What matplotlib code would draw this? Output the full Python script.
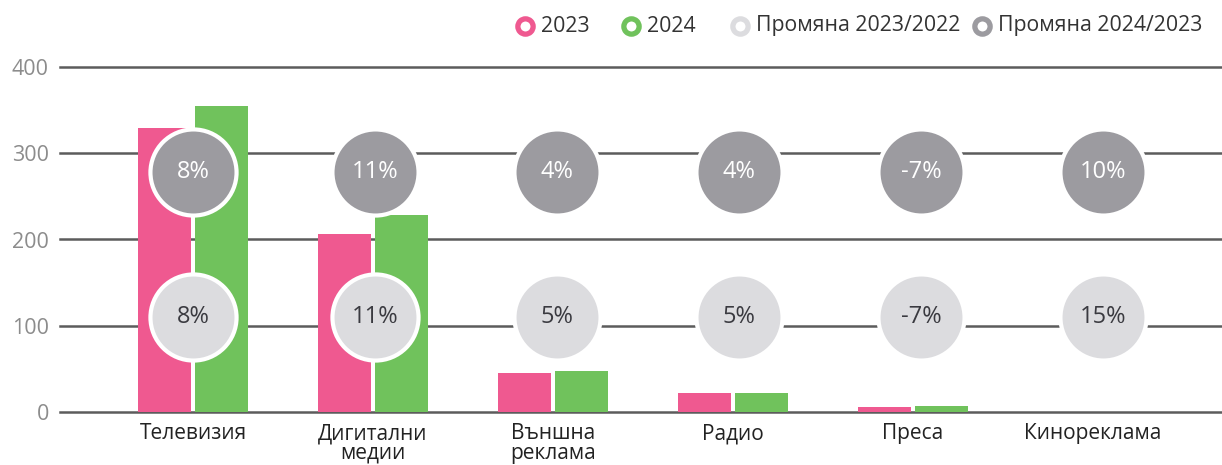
import matplotlib.pyplot as plt
import numpy as np

plt.rcParams['font.family'] = ['Open Sans', 'DejaVu Sans']

# ad spend by media type, with year-over-year change
categories = ['Телевизия', 'Дигитални\nмедии', 'Външна\nреклама', 'Радио', 'Преса', 'Кинореклама']
spend_2023 = [329, 206, 45, 22, 6, 0]
spend_2024 = [355, 228, 47, 22, 7, 0]
change_23_22 = ['8%', '11%', '5%', '5%', '-7%', '15%']
change_24_23 = ['8%', '11%', '4%', '4%', '-7%', '10%']
yticks = [0, 100, 200, 300, 400]

pink = '#ef5990'
green = '#70c25c'
light_grey = '#dcdcdf'
dark_grey = '#9c9ba0'

fig = plt.figure(figsize=(12.22, 4.65), dpi=100)
ax = fig.add_axes([60 / 1222, 53 / 465, 1 - 60 / 1222, 345 / 465])

x = np.arange(len(categories))
w = 0.294
off = 0.16

for y in yticks:
    ax.axhline(y, color='#5c5c5c', lw=1.8, zorder=1, clip_on=False)

ax.bar(x - off, spend_2023, w, color=pink, zorder=2)
ax.bar(x + off, spend_2024, w, color=green, zorder=2)

# change bubbles: lower row 2023/2022, upper row 2024/2023
cx = x * 1.011
ax.scatter(cx, [110] * len(x), s=62 ** 2, color=light_grey, edgecolors='white',
           linewidths=3, zorder=3, clip_on=False)
ax.scatter(cx, [278] * len(x), s=62 ** 2, color=dark_grey, edgecolors='white',
           linewidths=3, zorder=3, clip_on=False)
for xi, lo, hi in zip(cx, change_23_22, change_24_23):
    ax.text(xi, 110, lo, ha='center', va='center', fontsize=17, color='#3a3a40', zorder=4)
    ax.text(xi, 278, hi, ha='center', va='center', fontsize=17, color='white', zorder=4)

ax.set_xlim(-0.739, 5.717)
ax.set_ylim(0, 400)
ax.set_yticks(yticks)
ax.set_yticklabels([str(v) for v in yticks], fontsize=15.5, color='#8c8c8c')
ax.set_xticks(x)
ax.set_xticklabels(categories, fontsize=15, color='#222222', linespacing=0.9)
ax.tick_params(axis='y', length=0, pad=8)
ax.tick_params(axis='x', length=0, pad=8)
for s in ax.spines.values():
    s.set_visible(False)

# legend row in the top right
legend_items = [('2023', pink, 525), ('2024', green, 631),
                ('Промяна 2023/2022', light_grey, 740), ('Промяна 2024/2023', dark_grey, 982)]
ly = 1 - 26 / 465
for label, col, px in legend_items:
    fig.lines.append(plt.Line2D([px / 1222], [ly], transform=fig.transFigure, marker='o',
                                markersize=11, markerfacecolor='white', markeredgecolor=col,
                                markeredgewidth=3.8, linestyle='none'))
    fig.text((px + 16) / 1222, ly, label, fontsize=15.3, color='#333333', va='center', ha='left')

fig.savefig('out.png', dpi=100)
